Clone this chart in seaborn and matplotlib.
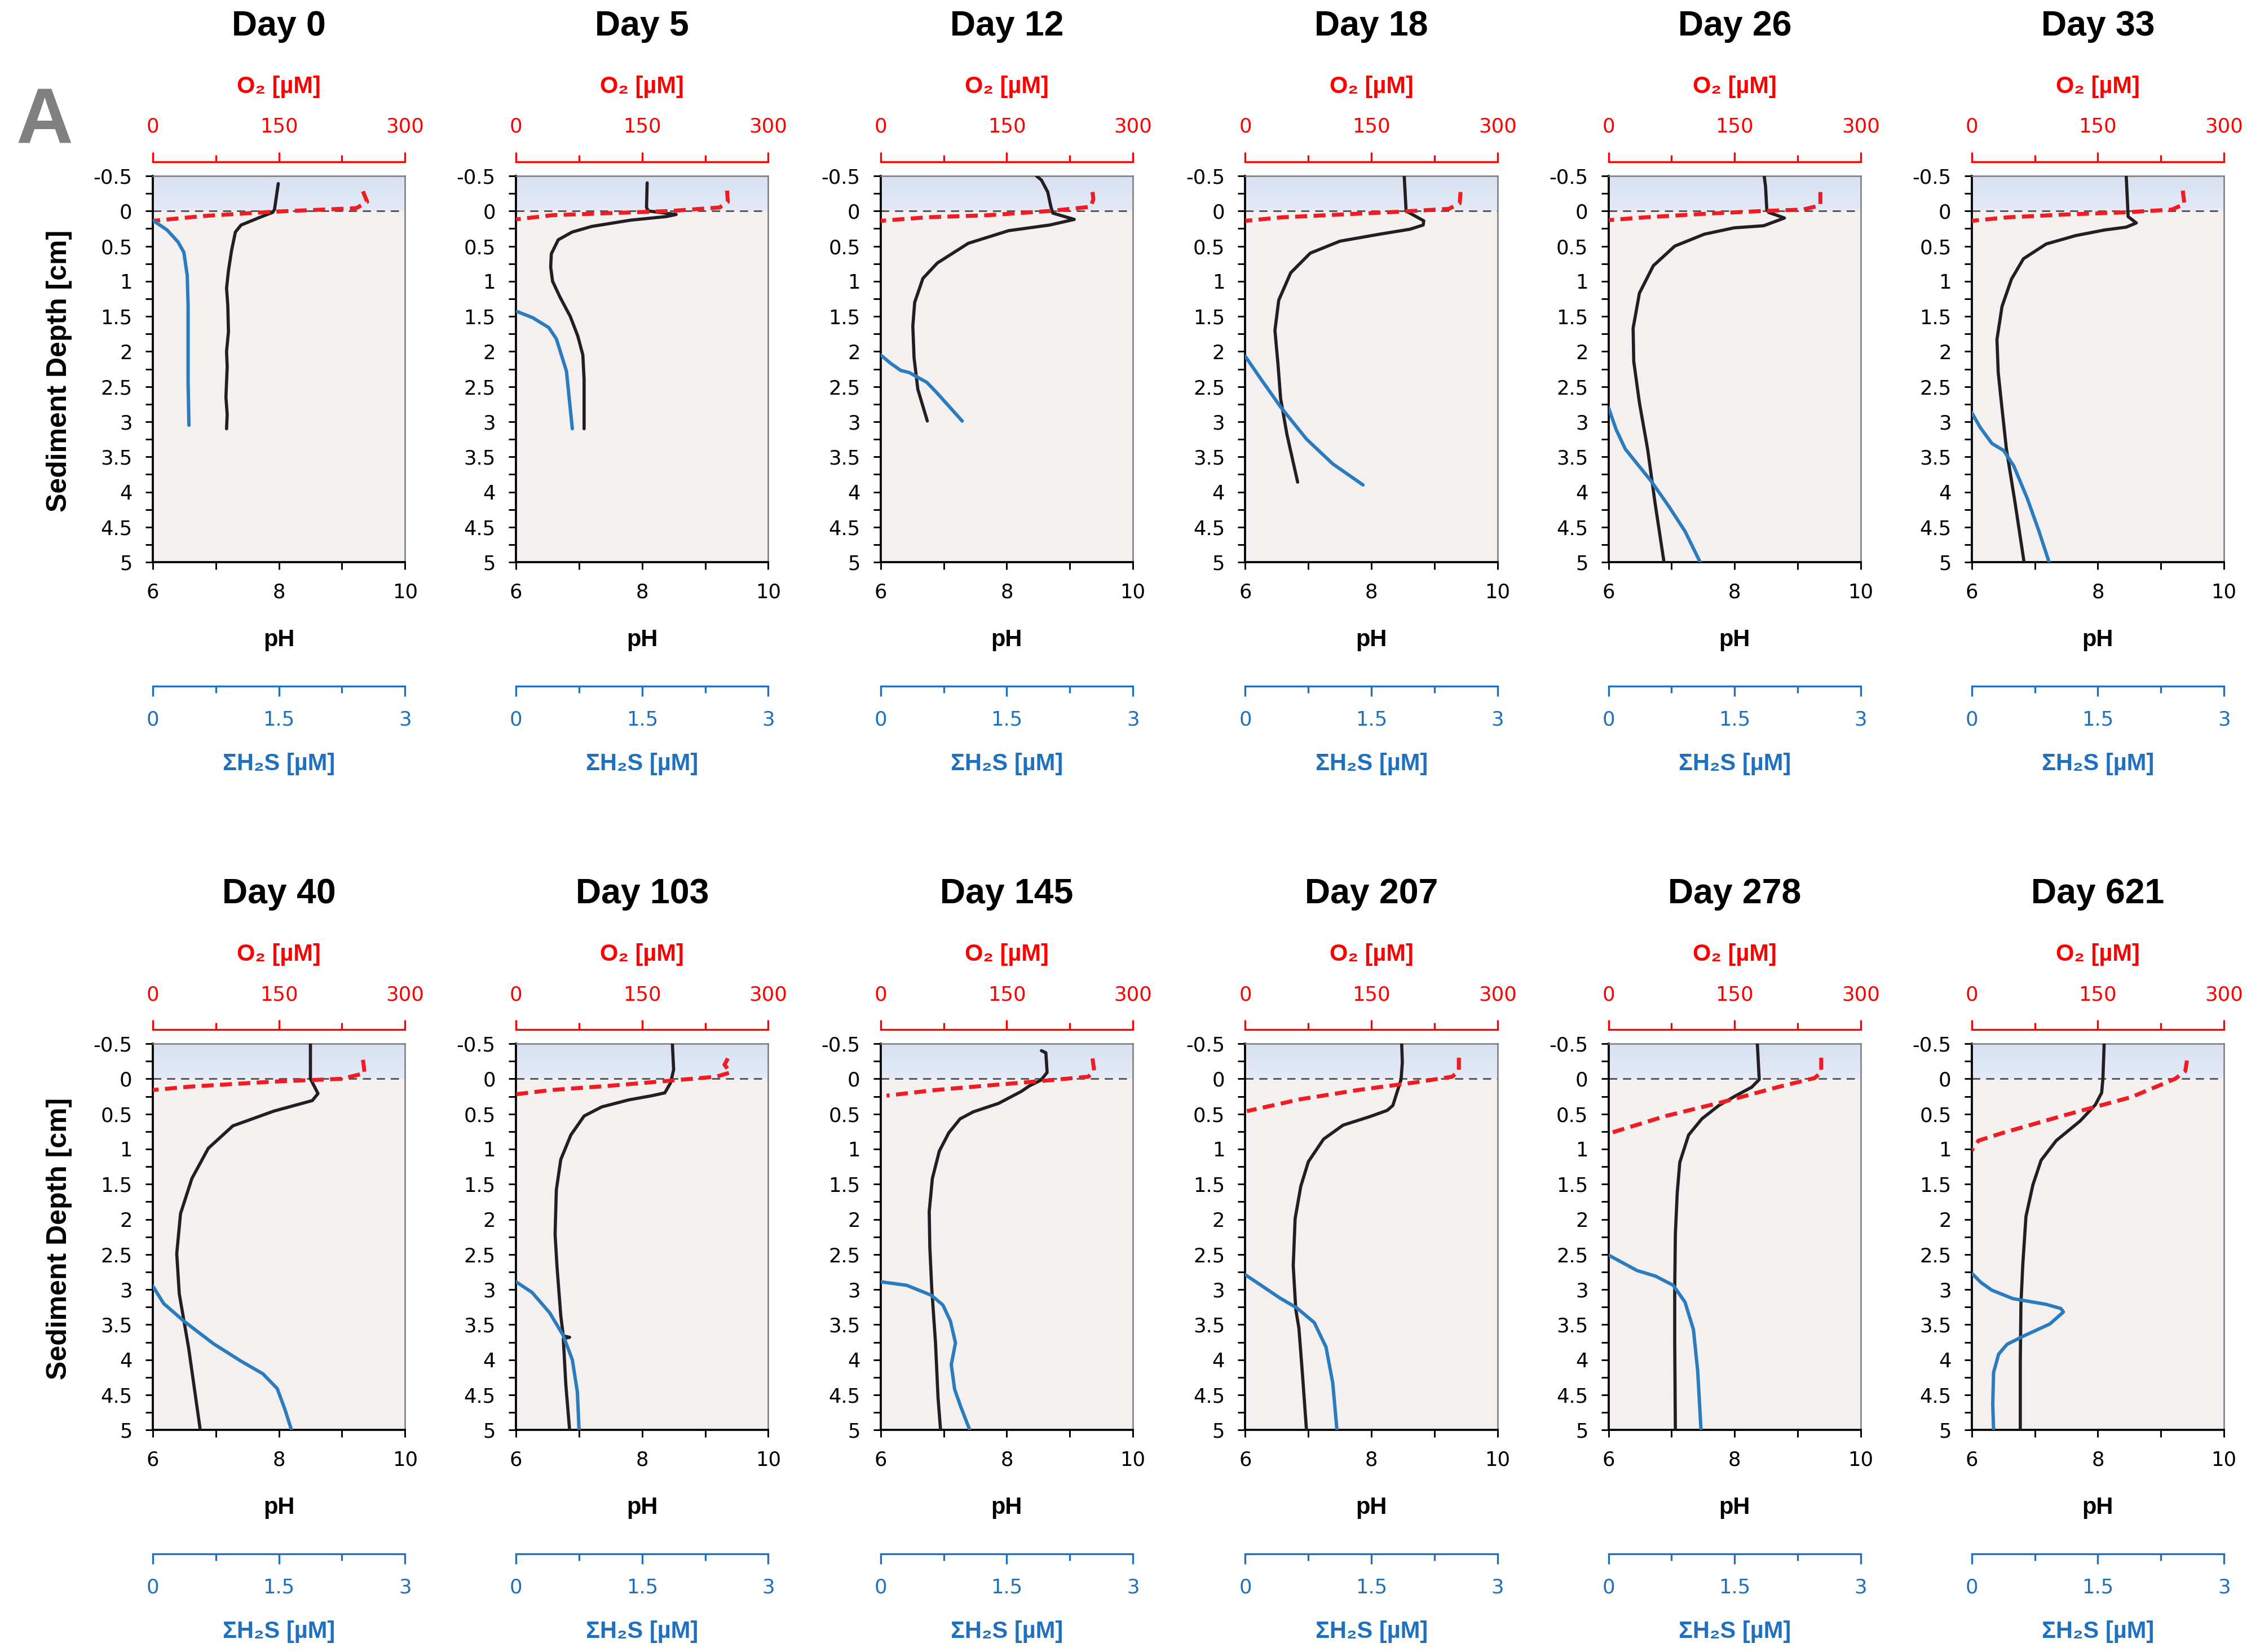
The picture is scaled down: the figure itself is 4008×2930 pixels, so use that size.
import numpy as np
import matplotlib
matplotlib.use("Agg")
import matplotlib.pyplot as plt
import seaborn as sns
from matplotlib.colors import LinearSegmentedColormap
from matplotlib.ticker import FixedLocator, FuncFormatter

# ---------------- data (depth [cm], value) ----------------
days = [0, 5, 12, 18, 26, 33, 40, 103, 145, 207, 278, 621]

ph_d0 = [(-0.39, 7.99), (-0.02, 7.93), (0.02, 7.90), (0.09, 7.70), (0.20, 7.40), (0.30, 7.31), (0.56, 7.25),
         (0.85, 7.20), (1.10, 7.17), (1.35, 7.19), (1.72, 7.20), (2.00, 7.17), (2.22, 7.18), (2.65, 7.16),
         (2.90, 7.18), (3.10, 7.17)]
ph_d5 = [(-0.40, 8.08), (-0.05, 8.07), (0.00, 8.10), (0.05, 8.54), (0.08, 8.38), (0.13, 7.82), (0.22, 7.20),
         (0.30, 6.89), (0.41, 6.67), (0.61, 6.56), (0.80, 6.55), (1.00, 6.58), (1.23, 6.70), (1.50, 6.86),
         (1.78, 6.98), (2.05, 7.06), (2.40, 7.08), (3.10, 7.08)]
ph_d12 = [(-0.50, 8.47), (-0.44, 8.55), (-0.27, 8.65), (-0.06, 8.70), (0.03, 8.73), (0.12, 9.07), (0.20, 8.68),
          (0.28, 8.03), (0.46, 7.39), (0.74, 6.90), (0.96, 6.67), (1.30, 6.54), (1.64, 6.51), (2.09, 6.53),
          (2.54, 6.59), (2.99, 6.74)]
ph_d18 = [(-0.50, 8.52), (0.00, 8.55), (0.14, 8.83), (0.20, 8.82), (0.26, 8.61), (0.33, 8.13), (0.43, 7.50),
          (0.60, 7.03), (0.88, 6.72), (1.27, 6.53), (1.70, 6.47), (2.20, 6.52), (2.67, 6.56), (3.18, 6.66),
          (3.86, 6.83)]
ph_d26 = [(-0.49, 8.47), (-0.35, 8.49), (-0.02, 8.51), (0.02, 8.54), (0.10, 8.79), (0.21, 8.46), (0.24, 7.99),
          (0.33, 7.52), (0.50, 7.05), (0.78, 6.71), (1.17, 6.49), (1.67, 6.39), (2.14, 6.40), (2.73, 6.49),
          (3.39, 6.62), (4.17, 6.74), (5.00, 6.88)]
ph_d33 = [(-0.50, 8.45), (-0.12, 8.47), (0.08, 8.48), (0.17, 8.61), (0.23, 8.45), (0.27, 8.11), (0.35, 7.65),
          (0.47, 7.18), (0.68, 6.82), (0.97, 6.63), (1.36, 6.48), (1.83, 6.40), (2.30, 6.42), (2.81, 6.48),
          (3.39, 6.55), (4.17, 6.69), (5.00, 6.83)]
ph_d40 = [(-0.50, 8.50), (0.00, 8.50), (0.21, 8.62), (0.31, 8.53), (0.46, 7.92), (0.67, 7.27), (0.99, 6.88),
          (1.42, 6.62), (1.92, 6.44), (2.49, 6.38), (3.06, 6.42), (3.84, 6.57), (4.98, 6.75)]
ph_d103 = [(-0.50, 8.48), (-0.13, 8.50), (0.06, 8.45), (0.20, 8.36), (0.24, 8.16), (0.30, 7.79), (0.40, 7.36),
           (0.53, 7.08), (0.80, 6.87), (1.15, 6.71), (1.58, 6.64), (2.21, 6.62), (2.67, 6.65), (3.37, 6.71),
           (3.66, 6.75), (3.68, 6.85), (3.70, 6.75), (4.35, 6.79), (5.00, 6.85)]
ph_d145 = [(-0.40, 8.55), (-0.37, 8.62), (-0.09, 8.64), (0.02, 8.54), (0.10, 8.36), (0.18, 8.23), (0.35, 7.87),
           (0.47, 7.47), (0.57, 7.26), (0.77, 7.08), (1.03, 6.93), (1.42, 6.82), (1.89, 6.77), (2.40, 6.78),
           (2.98, 6.81), (3.76, 6.87), (4.54, 6.91), (5.00, 6.95)]
ph_d207 = [(-0.50, 8.48), (-0.23, 8.49), (0.01, 8.47), (0.38, 8.34), (0.45, 8.25), (0.54, 7.97), (0.66, 7.55),
           (0.86, 7.24), (1.18, 7.00), (1.53, 6.88), (1.99, 6.79), (2.66, 6.76), (3.28, 6.80), (3.55, 6.85),
           (4.25, 6.91), (5.00, 6.97)]
ph_d278 = [(-0.50, 8.36), (0.01, 8.39), (0.12, 8.27), (0.25, 8.00), (0.38, 7.75), (0.57, 7.48), (0.80, 7.27),
           (1.19, 7.13), (1.62, 7.09), (2.21, 7.06), (2.98, 7.05), (3.76, 7.05), (5.00, 7.06)]
ph_d621 = [(-0.50, 8.10), (0.00, 8.08), (0.20, 8.06), (0.37, 7.96), (0.60, 7.72), (0.88, 7.34), (1.16, 7.10),
           (1.51, 6.97), (1.96, 6.86), (2.64, 6.81), (3.21, 6.78), (4.06, 6.77), (5.00, 6.77)]

o2_d0 = [(-0.28, 250), (-0.13, 255), (-0.04, 242), (0.01, 144), (0.07, 62), (0.14, 0)]
o2_d5 = [(-0.29, 251), (-0.13, 252), (-0.05, 242), (0.00, 184), (0.03, 113), (0.06, 43), (0.12, 0)]
o2_d12 = [(-0.27, 252), (-0.17, 253), (-0.06, 250), (0.00, 201), (0.06, 128), (0.09, 55), (0.14, 0)]
o2_d18 = [(-0.27, 256), (-0.11, 255), (-0.03, 242), (0.01, 184), (0.05, 114), (0.09, 44), (0.14, 0)]
o2_d26 = [(-0.27, 252), (-0.08, 252), (-0.02, 231), (0.00, 184), (0.04, 114), (0.09, 44), (0.13, 0)]
o2_d33 = [(-0.29, 251), (-0.10, 253), (-0.02, 238), (0.02, 181), (0.05, 112), (0.09, 43), (0.14, 0)]
o2_d40 = [(-0.27, 250), (-0.08, 252), (0.00, 225), (0.04, 144), (0.11, 46), (0.16, 0)]
o2_d103 = [(-0.29, 252), (-0.20, 248), (-0.09, 255), (-0.03, 238), (0.03, 180), (0.10, 111), (0.16, 42), (0.22, 0)]
o2_d145 = [(-0.29, 252), (-0.11, 254), (-0.03, 247), (0.02, 202), (0.09, 133), (0.16, 65), (0.24, 7)]
o2_d207 = [(-0.30, 254), (-0.11, 254), (-0.03, 246), (0.05, 203), (0.16, 134), (0.29, 66), (0.46, 2)]
o2_d278 = [(-0.30, 253), (-0.09, 253), (-0.01, 245), (0.11, 204), (0.33, 136), (0.53, 68), (0.78, 0)]
o2_d621 = [(-0.26, 256), (-0.11, 254), (0.00, 242), (0.26, 190), (0.51, 113), (0.77, 37), (0.88, 8), (1.02, 0)]

h2s_d0 = [(0.14, 0.01), (0.27, 0.17), (0.44, 0.30), (0.59, 0.37), (0.92, 0.41), (1.35, 0.42), (2.43, 0.42),
          (3.05, 0.43)]
h2s_d5 = [(1.43, 0.01), (1.52, 0.20), (1.66, 0.39), (1.82, 0.48), (2.28, 0.60), (3.10, 0.67)]
h2s_d12 = [(2.05, 0.00), (2.17, 0.12), (2.27, 0.24), (2.30, 0.34), (2.36, 0.43), (2.44, 0.55), (2.59, 0.67),
           (2.79, 0.82), (2.99, 0.97)]
h2s_d18 = [(2.07, 0.00), (2.40, 0.19), (2.79, 0.42), (3.25, 0.73), (3.60, 1.04), (3.90, 1.40)]
h2s_d26 = [(2.80, 0.00), (3.11, 0.09), (3.39, 0.20), (3.85, 0.51), (4.21, 0.72), (4.56, 0.91), (5.00, 1.09)]
h2s_d33 = [(2.87, 0.00), (3.08, 0.10), (3.31, 0.24), (3.41, 0.38), (3.63, 0.50), (4.09, 0.66), (4.56, 0.80),
           (5.00, 0.92)]
h2s_d40 = [(2.95, 0.00), (3.20, 0.13), (3.45, 0.37), (3.77, 0.72), (4.02, 1.05), (4.20, 1.31), (4.41, 1.48),
           (4.70, 1.57), (5.00, 1.65)]
h2s_d103 = [(2.89, 0.00), (3.04, 0.19), (3.33, 0.40), (3.65, 0.56), (4.00, 0.67), (4.46, 0.73), (5.00, 0.75)]
h2s_d145 = [(2.89, 0.00), (2.94, 0.31), (3.08, 0.60), (3.22, 0.74), (3.45, 0.83), (3.76, 0.89), (4.07, 0.84),
            (4.42, 0.88), (4.66, 0.95), (5.00, 1.06)]
h2s_d207 = [(2.79, 0.00), (2.95, 0.20), (3.12, 0.41), (3.26, 0.61), (3.47, 0.82), (3.82, 0.96), (4.33, 1.04),
            (5.00, 1.09)]
h2s_d278 = [(2.51, 0.00), (2.73, 0.34), (2.81, 0.56), (2.94, 0.77), (3.18, 0.91), (3.57, 1.01), (4.15, 1.06),
            (5.00, 1.10)]
h2s_d621 = [(2.78, 0.01), (2.90, 0.11), (3.01, 0.24), (3.13, 0.49), (3.21, 0.88), (3.27, 1.06), (3.32, 1.09),
            (3.49, 0.93), (3.66, 0.62), (3.78, 0.42), (3.92, 0.32), (4.18, 0.26), (4.63, 0.25), (5.00, 0.26)]

ph_profiles = [ph_d0, ph_d5, ph_d12, ph_d18, ph_d26, ph_d33, ph_d40, ph_d103, ph_d145, ph_d207, ph_d278, ph_d621]
o2_profiles = [o2_d0, o2_d5, o2_d12, o2_d18, o2_d26, o2_d33, o2_d40, o2_d103, o2_d145, o2_d207, o2_d278, o2_d621]
h2s_profiles = [h2s_d0, h2s_d5, h2s_d12, h2s_d18, h2s_d26, h2s_d33, h2s_d40, h2s_d103, h2s_d145, h2s_d207,
                h2s_d278, h2s_d621]

depth_ticks = [-0.5, 0, 0.5, 1, 1.5, 2, 2.5, 3, 3.5, 4, 4.5, 5]
ph_ticks = [6, 8, 10]
o2_ticks = [0, 150, 300]
h2s_ticks = [0, 1.5, 3]

# ---------------- style ----------------
sns.set_theme(style="ticks")
plt.rcParams["font.family"] = ["DejaVu Sans"]
plt.rcParams["axes.unicode_minus"] = False
plt.rcParams["lines.solid_joinstyle"] = "round"
plt.rcParams["lines.solid_capstyle"] = "round"

LAB = ["Liberation Sans", "DejaVu Sans"]
RED = "#ff0000"
RED_LINE = "#ee1d24"
BLUE_TXT = "#2070c0"
BLUE_LINE = "#2b7bbf"
BLACK_LINE = "#231f20"

fig = plt.figure(figsize=(4008 / 300, 2930 / 300), dpi=300)

col_left = [106, 358, 611, 864, 1116, 1368]
row_bottom = [1 - 390 / 1146, 1 - 992 / 1146]
W = 175 / 1568
H = 268 / 1146

water_cmap = LinearSegmentedColormap.from_list("water", ["#d8e1f2", "#e4eaf6"])
fmt = FuncFormatter(lambda v, p: f"{v:g}")

for i, day in enumerate(days):
    r, c = divmod(i, 6)
    ax = fig.add_axes([col_left[c] / 1568, row_bottom[r], W, H])

    # backgrounds
    ax.set_facecolor("#f4f0ef")
    ax.axhspan(0, 5, color="#f4f0ef", zorder=0, lw=0)
    ax.imshow(np.linspace(0, 1, 64).reshape(-1, 1), cmap=water_cmap, extent=(6, 10, 0, -0.5),
              aspect="auto", zorder=0.1, interpolation="bilinear")
    ax.axhline(0, color="#555555", lw=0.7, dashes=(5, 3.5), zorder=0.5)

    ph = ph_profiles[i]
    sns.lineplot(x=[p[1] for p in ph], y=[p[0] for p in ph], sort=False, estimator=None,
                 color=BLACK_LINE, lw=1.35, ax=ax, zorder=3)

    ax.set_xlim(6, 10)
    ax.set_ylim(5, -0.5)
    ax.xaxis.set_major_locator(FixedLocator(ph_ticks))
    ax.xaxis.set_minor_locator(FixedLocator([7, 9]))
    ax.xaxis.set_major_formatter(fmt)
    ax.yaxis.set_major_locator(FixedLocator(depth_ticks))
    ax.yaxis.set_minor_locator(FixedLocator(np.arange(-0.25, 5, 0.5)))
    ax.yaxis.set_major_formatter(fmt)
    ax.tick_params(axis="both", which="both", direction="out", color="black", width=0.7,
                   labelsize=8.5, labelcolor="black")
    ax.tick_params(axis="y", which="major", length=3.2, pad=5.5)
    ax.tick_params(axis="y", which="minor", length=3.2)
    ax.tick_params(axis="x", which="both", length=3.2, pad=5.5)
    for s in ["left", "bottom"]:
        ax.spines[s].set_color("black")
        ax.spines[s].set_linewidth(0.9)
    for s in ["top", "right"]:
        ax.spines[s].set_color("#7a7a7a")
        ax.spines[s].set_linewidth(0.6)
    ax.set_xlabel("")
    ax.set_ylabel("")

    # O2 axis (top)
    ax2 = ax.twiny()
    o2 = o2_profiles[i]
    sns.lineplot(x=[p[1] for p in o2], y=[p[0] for p in o2], sort=False, estimator=None,
                 color=RED_LINE, lw=1.7, ax=ax2, zorder=4)
    ax2.lines[-1].set_dashes((3.0, 1.6))
    ax2.set_xlim(0, 300)
    ax2.xaxis.set_ticks_position("top")
    ax2.xaxis.set_major_locator(FixedLocator(o2_ticks))
    ax2.xaxis.set_minor_locator(FixedLocator([75, 225]))
    ax2.xaxis.set_major_formatter(fmt)
    for s in ["left", "right", "bottom"]:
        ax2.spines[s].set_visible(False)
    ax2.spines["top"].set_position(("outward", 6.1))
    ax2.spines["top"].set_color(RED)
    ax2.spines["top"].set_linewidth(0.8)
    ax2.tick_params(axis="x", which="both", direction="out", color=RED, labelcolor=RED,
                    labelsize=8.5, width=0.8)
    ax2.tick_params(axis="x", which="major", length=4.2, pad=6.5)
    ax2.tick_params(axis="x", which="minor", length=2.8)
    ax2.set_xlabel("")
    ax2.set_ylabel("")

    # H2S axis (bottom, offset)
    ax3 = ax.twiny()
    h2s = h2s_profiles[i]
    sns.lineplot(x=[p[1] for p in h2s], y=[p[0] for p in h2s], sort=False, estimator=None,
                 color=BLUE_LINE, lw=1.45, ax=ax3, zorder=4)
    ax3.set_xlim(0, 3)
    ax3.xaxis.set_ticks_position("bottom")
    ax3.xaxis.set_label_position("bottom")
    ax3.xaxis.set_major_locator(FixedLocator(h2s_ticks))
    ax3.xaxis.set_minor_locator(FixedLocator([0.75, 2.25]))
    ax3.xaxis.set_major_formatter(fmt)
    for s in ["left", "right", "top"]:
        ax3.spines[s].set_visible(False)
    ax3.spines["bottom"].set_visible(True)
    ax3.spines["bottom"].set_position(("outward", 52.8))
    ax3.spines["bottom"].set_color(BLUE_TXT)
    ax3.spines["bottom"].set_linewidth(0.8)
    ax3.tick_params(axis="x", which="both", direction="out", color=BLUE_TXT, labelcolor=BLUE_TXT,
                    labelsize=8.5, width=0.8, top=False, labeltop=False, bottom=True, labelbottom=True)
    ax3.tick_params(axis="x", which="major", length=4.2, pad=6.0)
    ax3.tick_params(axis="x", which="minor", length=2.8)
    ax3.set_xlabel("")
    ax3.set_ylabel("")

    ax.set_ylim(5, -0.5)

    # texts
    ax.text(0.5, 1.388, f"Day {day}", transform=ax.transAxes, ha="center", va="center",
            fontsize=15, fontweight="bold", family=LAB, color="black")
    ax.text(0.5, 1.231, "O\u2082 [\u00b5M]", transform=ax.transAxes, ha="center", va="center",
            fontsize=10, fontweight="bold", family=LAB, color=RED)
    ax.text(0.5, -0.201, "pH", transform=ax.transAxes, ha="center", va="center",
            fontsize=10, fontweight="bold", family=LAB, color="black")
    ax.text(0.5, -0.522, "\u03a3H\u2082S [\u00b5M]", transform=ax.transAxes, ha="center", va="center",
            fontsize=10, fontweight="bold", family=LAB, color=BLUE_TXT)
    if c == 0:
        ax.text(-0.371, 0.495, "Sediment Depth [cm]", transform=ax.transAxes, ha="center", va="center",
                rotation=90, fontsize=12, fontweight="bold",
                family=["Liberation Sans Narrow", "Liberation Sans", "DejaVu Sans"], color="black")

fig.text(79 / 4008, 1 - 218 / 2930, "A", ha="center", va="center", fontsize=33.5,
         fontweight="bold", family=LAB, color="#808080")

fig.savefig("out.png", dpi=300, facecolor="white")
